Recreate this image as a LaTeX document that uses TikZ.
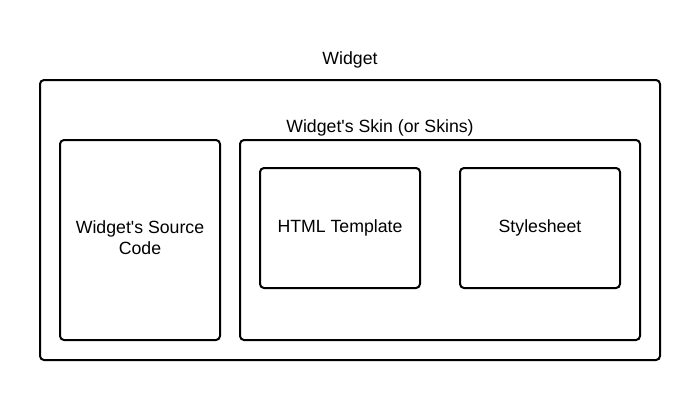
\documentclass[tikz,border=0pt]{standalone}
\usepackage{fontspec}
\setmainfont{Liberation Sans}
\usepackage{tikz}

\begin{document}
\begin{tikzpicture}[x=1pt, y=-1pt,
    box/.style={draw, line width=2pt, rounded corners=4pt, inner sep=0pt,
                align=center, font=\fontsize{17.7}{21}\selectfont},
    txt/.style={inner sep=0pt, align=center, font=\fontsize{17.7}{21}\selectfont}]
\useasboundingbox (0,0) rectangle (700,400);

% Widget
\node[box, minimum width=620pt, minimum height=280pt] (widget) at (350,220) {};
\node[txt] (widgetlbl) at (350,60) {Widget};

% Source code
\node[box, minimum width=160pt, minimum height=200pt] (src) at (140,240) {};
\node[txt] (srclbl) at (140,237.5) {Widget\textquotesingle s Source\\Code};

% Skin
\node[box, minimum width=400pt, minimum height=200pt] (skin) at (440,240) {};
\node[txt] (skinlbl) at (380,128) {Widget\textquotesingle s Skin (or Skins)};

% Template and stylesheet
\node[box, minimum width=160pt, minimum height=120pt] (html) at (340,228) {HTML Template};
\node[box, minimum width=160pt, minimum height=120pt] (css) at (540,228) {Stylesheet};
\end{tikzpicture}
\end{document}
